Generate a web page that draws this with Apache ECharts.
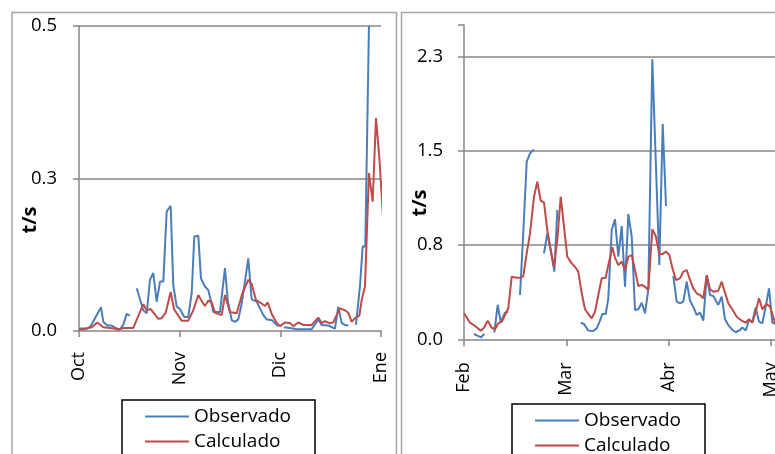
<!DOCTYPE html>
<html>
<head>
<meta charset="utf-8">
<script src="https://cdn.jsdelivr.net/npm/echarts@6/dist/echarts.min.js"></script>
<style>
html,body{margin:0;padding:0;background:#fff;}
#chart{width:775px;height:454px;}
</style>
</head>
<body>
<div id="chart"></div>
<script>
// Tick labels
const leftMonths = ['Oct', 'Nov', 'Dic', 'Ene'];
const rightMonths = ['Feb', 'Mar', 'Abr', 'May', 'Jun'];
const leftYLabels = ['0.0', '0.3', '0.5'];
const rightYLabels = ['0.0', '0.8', '1.5', '2.3'];
const seriesNames = ['Observado', 'Calculado'];

// Left panel (Oct - Ene), x = days since 1 Oct, y = t/s ; null = gap
const leftObservado = [
  [0,0.004],[2.53,0.004],[3.56,0.008],[4.87,0.021],[6.70,0.039],[7.40,0.015],[8.62,0.009],[9.96,0.009],
  [11.48,0.004],[12.49,0.003],[13.49,0.010],[14.53,0.028],[15.53,0.025],
  null,
  [17.58,0.070],[19.59,0.034],[20.62,0.029],[21.63,0.084],[22.63,0.095],[23.67,0.048],[24.67,0.081],
  [25.68,0.081],[26.71,0.196],[27.93,0.205],[28.72,0.075],[29.76,0.040],[30.76,0.036],[32.07,0.023],
  [33.29,0.023],[34.33,0.062],[35.12,0.155],[36.34,0.156],[37.16,0.086],[38.38,0.073],[39.39,0.067],
  [40.12,0.051],[40.91,0.031],[42.95,0.031],[44.47,0.103],[45.29,0.051],[46.51,0.018],[47.52,0.015],
  [48.52,0.019],[49.56,0.045],[51.57,0.119],[52.60,0.052],[54.13,0.048],[55.13,0.037],[56.14,0.026],
  [57.17,0.019],[58.70,0.018],[60.22,0.010],[61.01,0.008],
  null,
  [62.44,0.006],[65.28,0.004],[66.31,0.003],[70.88,0.003],[72.89,0.019],[73.93,0.010],[75.94,0.009],
  [77.98,0.004],[78.98,0.040],[80.02,0.013],[81.02,0.010],[82.03,0.009],
  null,
  [84.37,0.010],[85.59,0.073],[86.42,0.139],[87.21,0.138],[88.33,0.500],
  null,
  [92.69,0.160],[93.00,0.177]
];
const leftCalculado = [
  [0,0.002],[1.52,0.003],[2.83,0.005],[3.87,0.006],[5.57,0.014],[7.40,0.006],[9.44,0.005],[10.97,0.004],
  [11.97,0.002],[13.49,0.005],[16.54,0.005],[19.59,0.044],[20.62,0.034],[21.84,0.036],[23.15,0.027],
  [24.15,0.020],[25.19,0.021],[26.41,0.030],[27.93,0.064],[28.94,0.036],[30.25,0.025],[31.28,0.017],
  [33.29,0.017],[34.82,0.034],[36.34,0.059],[37.37,0.049],[38.38,0.041],[39.39,0.050],[40.42,0.047],
  [41.43,0.030],[43.47,0.026],[44.47,0.059],[46.00,0.031],[48.04,0.029],[49.66,0.060],[51.57,0.084],
  [52.60,0.077],[53.91,0.051],[55.65,0.045],[56.66,0.041],[57.48,0.047],[58.70,0.028],[60.22,0.013],
  [61.23,0.008],[62.74,0.014],[64.27,0.013],[65.28,0.008],[66.81,0.014],[68.32,0.010],[70.88,0.010],
  [72.89,0.022],[73.93,0.013],[74.95,0.016],[76.27,0.013],[77.46,0.014],[78.47,0.026],[79.50,0.037],
  [81.02,0.034],[82.03,0.030],[83.06,0.015],[84.07,0.021],[85.39,0.025],[86.12,0.051],[87.12,0.073],
  [88.33,0.259],[89.46,0.212],[90.47,0.349],[91.47,0.286],[93.21,0.136]
];

// Right panel (Feb - May), x = days since 1 Feb, y = t/s ; null = gap
const rightObservado = [
  [2.90,0.042],[4.15,0.026],[4.93,0.016],[5.89,0.042],
  null,
  [8.79,0.053],[9.77,0.273],[10.64,0.140],[11.89,0.212],[12.84,0.220],
  null,
  [16.24,0.352],[17.19,0.850],[18.18,1.413],[19.14,1.479],[20.30,1.511],
  null,
  [23.19,0.684],[24.15,0.843],[25.14,0.710],[26.19,0.538],[27.05,1.028],
  null,
  [33.84,0.132],[34.79,0.122],[36.04,0.069],[37.49,0.066],[38.47,0.087],[39.43,0.148],[40.10,0.201],
  [41.08,0.201],[41.84,0.326],[42.83,0.869],[43.78,0.954],[44.74,0.657],[45.73,0.900],[46.68,0.418],
  [47.64,0.997],[48.63,0.816],[49.58,0.233],[50.54,0.239],[51.53,0.291],[52.48,0.207],[53.44,0.398],
  [54.60,2.227],[56.63,0.591],[57.61,1.712],[58.57,1.060],
  null,
  [60.68,0.503],[61.67,0.299],[62.63,0.286],[63.58,0.299],[64.57,0.458],[65.53,0.307],[66.48,0.259],
  [67.47,0.193],[68.43,0.212],[69.38,0.148],[70.37,0.503],[71.33,0.352],[72.28,0.344],[73.73,0.273],
  [74.72,0.339],[75.67,0.159],[76.63,0.113],[77.61,0.080],[78.77,0.056],[80.02,0.074],[80.69,0.095],
  [81.68,0.069],[82.63,0.153],[83.59,0.140],[84.57,0.254],[85.53,0.140],[86.49,0.127],[87.47,0.259],
  [88.43,0.405],[89.39,0.132],[90.17,0.122]
];
const rightCalculado = [
  [0,0.207],[1.74,0.132],[3.19,0.106],[4.84,0.069],[5.80,0.092],[6.87,0.148],[8.03,0.092],[8.99,0.080],
  [9.94,0.127],[10.93,0.140],[11.89,0.193],[12.84,0.247],[13.83,0.498],[15.28,0.490],[16.44,0.490],
  [17.19,0.503],[18.18,0.684],[19.14,0.843],[20.30,1.134],[21.25,1.253],[22.24,1.102],[23.19,1.090],
  [24.15,0.869],[25.14,0.710],[26.09,0.577],[27.05,0.790],[28.04,1.134],[28.99,0.896],[29.95,0.657],
  [31.23,0.604],[32.18,0.577],[33.14,0.538],[34.13,0.366],[35.08,0.239],[36.04,0.201],[37.03,0.167],
  [37.98,0.220],[38.94,0.352],[39.92,0.485],[41.08,0.490],[41.84,0.590],[43.00,0.732],[43.78,0.650],
  [44.74,0.591],[45.73,0.618],[46.68,0.551],[47.64,0.657],[48.63,0.670],[49.58,0.551],[50.54,0.424],
  [51.53,0.432],[52.48,0.418],[53.44,0.392],[54.60,0.875],[55.58,0.822],[56.63,0.679],[57.61,0.679],
  [58.57,0.697],[59.53,0.670],[60.51,0.557],[61.47,0.472],[62.63,0.485],[63.58,0.538],[64.57,0.551],
  [65.53,0.472],[66.48,0.405],[67.47,0.366],[68.43,0.352],[69.38,0.326],[70.37,0.511],[71.33,0.398],
  [72.28,0.379],[73.73,0.387],[74.72,0.458],[75.67,0.371],[76.63,0.286],[77.79,0.239],[79.07,0.180],
  [80.52,0.148],[81.68,0.132],[82.63,0.159],[83.59,0.132],[84.57,0.220],[85.53,0.326],[86.49,0.239],
  [87.76,0.281],[88.72,0.259],[90.17,0.132]
];

const FONT = '"Open Sans"';
const BLUE = '#4a7ebb';
const RED = '#be4b48';
const GRID = '#878787';
const leftStep = 92 / 3;
const rightStep = 89 / 3;

function tickLabel(labels, step) {
  return function (v) {
    const i = v / step;
    const r = Math.round(i);
    return (Math.abs(i - r) < 1e-6 && labels[r] !== undefined) ? labels[r] : '';
  };
}
function prep(arr) { return arr.map(p => p === null ? '-' : p); }

function xAxisCfg(grid, max, step, labels, margin, tickLen) {
  return {
    type: 'value', gridIndex: grid, min: 0, max: max, interval: step,
    axisLine: { show: true, onZero: false, lineStyle: { color: GRID, width: 1.5 } },
    axisTick: { show: true, length: tickLen, lineStyle: { color: GRID, width: 1.5 } },
    splitLine: { show: false },
    axisLabel: { rotate: 90, margin: margin, fontSize: 18, fontFamily: FONT, color: '#000',
      formatter: tickLabel(labels, step), showMinLabel: true, showMaxLabel: true, hideOverlap: false }
  };
}
function yAxisCfg(grid, max, step, labels, margin, showMax) {
  return {
    type: 'value', gridIndex: grid, min: 0, max: max, interval: step,
    axisLine: { show: true, lineStyle: { color: GRID, width: 1.5 } },
    axisTick: { show: true, length: 6, lineStyle: { color: GRID, width: 1.5 } },
    splitLine: { show: true, showMinLine: false, showMaxLine: showMax, lineStyle: { color: GRID, width: 1.5 } },
    axisLabel: { margin: margin, fontSize: 18.5, fontFamily: FONT, color: '#000',
      formatter: tickLabel(labels, step) }
  };
}
function lineSeries(name, data, xi, color, clip) {
  return {
    name: name, type: 'line', xAxisIndex: xi, yAxisIndex: xi, data: prep(data),
    symbol: 'none', connectNulls: false, clip: clip, animation: false,
    lineStyle: { color: color, width: 2 }, itemStyle: { color: color }
  };
}
function legendCfg(left, top) {
  return {
    data: seriesNames, orient: 'vertical', left: left, top: top, width: 300, height: 150,
    padding: [7, 24, 30, 23], itemWidth: 44, itemHeight: 2, itemGap: 6, icon: 'rect',
    borderColor: '#000', borderWidth: 1.5, backgroundColor: '#fff',
    textStyle: { fontSize: 19, fontFamily: FONT, color: '#000' },
    selectedMode: false
  };
}

const chart = echarts.init(document.getElementById('chart'), null, { renderer: 'canvas' });
chart.setOption({
  backgroundColor: '#fff',
  animation: false,
  grid: [
    { left: 79, top: 26, width: 302, height: 305, containLabel: false, outerBoundsMode: 'none' },
    { left: 464, top: 25, width: 409.3, height: 314.3, containLabel: false, outerBoundsMode: 'none' }
  ],
  xAxis: [
    xAxisCfg(0, 92, leftStep, leftMonths, 21, 6),
    xAxisCfg(1, 4 * rightStep, rightStep, rightMonths, 23, 7)
  ],
  yAxis: [
    yAxisCfg(0, 0.5, 0.25, leftYLabels, 22, true),
    yAxisCfg(1, 2.5, 0.75, rightYLabels, 21, false)
  ],
  legend: [legendCfg(122, 400), legendCfg(512, 404)],
  series: [
    lineSeries(seriesNames[0], leftObservado, 0, BLUE, false),
    lineSeries(seriesNames[1], leftCalculado, 0, RED, false),
    lineSeries(seriesNames[0], rightObservado, 1, BLUE, true),
    lineSeries(seriesNames[1], rightCalculado, 1, RED, true)
  ],
  graphic: [
    { type: 'rect', z: -10, silent: true, shape: { x: 12, y: 12.5, width: 384.5, height: 470 },
      style: { fill: 'none', stroke: '#a6a6a6', lineWidth: 1.5 } },
    { type: 'rect', z: -10, silent: true, shape: { x: 401.5, y: 12.5, width: 420, height: 470 },
      style: { fill: 'none', stroke: '#a6a6a6', lineWidth: 1.5 } },
    { type: 'text', x: 30.5, y: 220, rotation: Math.PI / 2, silent: true,
      style: { text: 't/s', font: 'bold 20px ' + FONT, fill: '#000', align: 'center', verticalAlign: 'middle',
        textAlign: 'center', textVerticalAlign: 'middle' } },
    { type: 'text', x: 420.5, y: 203, rotation: Math.PI / 2, silent: true,
      style: { text: 't/s', font: 'bold 20px ' + FONT, fill: '#000', align: 'center', verticalAlign: 'middle',
        textAlign: 'center', textVerticalAlign: 'middle' } }
  ]
});
</script>
</body>
</html>
